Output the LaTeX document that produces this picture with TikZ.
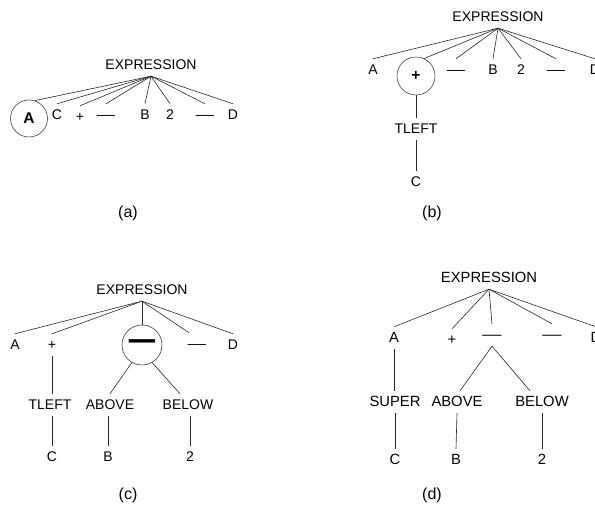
\documentclass[tikz,border=0pt]{standalone}
\usepackage{fontspec}
\setmainfont{Liberation Sans}
\newcommand\mydash{\scalebox{1.3}[1]{—}}
\newcommand\mybar{\scalebox{1.7}[2.2]{\bfseries —}}
\begin{document}
\begin{tikzpicture}[x=1pt,y=-1pt,
  lbl/.style={inner xsep=1pt, inner ysep=6pt, text height=10pt, text depth=0pt, font=\fontsize{14}{16}\selectfont},
  lbld/.style={lbl, font=\fontsize{14.8}{17}\selectfont},
  circ/.style={circle, draw=black!75, line width=0.6pt, minimum size=37pt, inner sep=0pt, font=\fontsize{15.5}{17}\selectfont\bfseries},
  sublabel/.style={inner sep=0pt, font=\fontsize{16}{18}\selectfont},
  edge/.style={draw=black!85, line width=0.6pt}]
\useasboundingbox (0,0) rectangle (595,510);

% ---------- (a) ----------
\node[lbl] (aexp) at (151,65) {EXPRESSION};
\node[circ] (aA) at (29,118.5) {A};
\node[lbl] (aC) at (57,115) {C};
\node[lbl] (aplus) at (80,117) {+};
\node[lbl] (ad1) at (106,115) {\mydash};
\node[lbl] (aB) at (145,115) {B};
\node[lbl] (a2) at (170,115) {2};
\node[lbl] (ad2) at (205,115) {\mydash};
\node[lbl] (aD) at (233,115) {D};
\draw[edge] (aexp.south) -- (aA.72);
\foreach \n in {aC,aplus,ad1,aB,a2,ad2,aD} \draw[edge] (aexp.south) -- (\n.north);
\node[sublabel] (alab) at (128,213) {(a)};

% ---------- (b) ----------
\node[lbl] (bexp) at (498,17) {EXPRESSION};
\node[lbl] (bA) at (373,70) {A};
\node[circ, minimum size=38pt] (bplus) at (416,76) {+};
\node[lbl] (bd1) at (456,70) {\mydash};
\node[lbl] (bB) at (493,70) {B};
\node[lbl] (b2) at (521,70) {2};
\node[lbl] (bd2) at (556,70) {\mydash};
\node[lbl] (bD) at (595,70) {D};
\node[lbl] (btleft) at (416,129) {TLEFT};
\node[lbl] (bC) at (416,182) {C};
\draw[edge] (bexp.south) -- (bplus.65);
\foreach \n in {bA,bd1,bB,b2,bd2,bD} \draw[edge] (bexp.south) -- (\n.north);
\draw[edge] (bplus.south) -- (btleft.north);
\draw[edge] (btleft.south) -- (bC.north);
\node[sublabel] (blab) at (432,213) {(b)};

% ---------- (c) ----------
\node[lbl] (cexp) at (142,290) {EXPRESSION};
\node[lbl] (cA) at (15,345) {A};
\node[lbl] (cplus) at (52,345) {+};
\node[circ, minimum size=40pt] (cbar) at (142,345) {\mybar};
\node[lbl] (cd1) at (197,344) {\mydash};
\node[lbl] (cD) at (233,345) {D};
\node[lbl] (ctleft) at (50,405) {TLEFT};
\node[lbl] (cabove) at (110,405) {ABOVE};
\node[lbl] (cbelow) at (188,405) {BELOW};
\node[lbl] (cC) at (52,457) {C};
\node[lbl] (cB) at (108,457) {B};
\node[lbl] (c2) at (190,457) {2};
\foreach \n in {cA,cplus,cbar,cD} \draw[edge] (cexp.south) -- (\n.north);
\draw[edge] (cexp.south) -- ([xshift=-8pt]cd1.north);
\draw[edge] (cplus.south) -- (cplus.south |- ctleft.north);
\draw[edge] (cC.north |- ctleft.south) -- (cC.north);
\draw[edge] (cbar.240) -- (cabove.north);
\draw[edge] (cbar.300) -- ([xshift=-8pt]cbelow.north);
\draw[edge] (cB.north |- cabove.south) -- (cB.north);
\draw[edge] (c2.north |- cbelow.south) -- (c2.north);
\node[sublabel] (clab) at (128,495) {(c)};

% ---------- (d) ----------
\node[lbld] (dexp) at (489,278) {EXPRESSION};
\node[lbld] (dA) at (394,338) {A};
\node[lbld] (dplus) at (452,340) {+};
\node[lbld] (dbar) at (492,335) {\mydash};
\node[lbld] (dd1) at (552,335) {\mydash};
\node[lbld] (dD) at (596,338) {D};
\node[lbld] (dsuper) at (395,402) {SUPER};
\node[lbld] (dabove) at (457,402) {ABOVE};
\node[lbld] (dbelow) at (542,402) {BELOW};
\node[lbld] (dC) at (395,460) {C};
\node[lbld] (dB) at (456,460) {B};
\node[lbld] (d2) at (542,460) {2};
\foreach \n in {dA,dplus,dbar,dd1,dD} \draw[edge] (dexp.south) -- (\n.north);
\draw[edge] (dA.south) -- (dA.south |- dsuper.north);
\draw[edge] (dC.north |- dsuper.south) -- (dC.north);
\draw[edge] (dbar.south) -- ([xshift=3pt]dabove.north);
\draw[edge] (dbar.south) -- ([xshift=-12pt]dbelow.north);
\draw[edge] (dabove.south) -- (dB.north);
\draw[edge] (dbelow.south) -- (d2.north);
\node[sublabel] (dlab) at (432,495) {(d)};
\end{tikzpicture}
\end{document}
